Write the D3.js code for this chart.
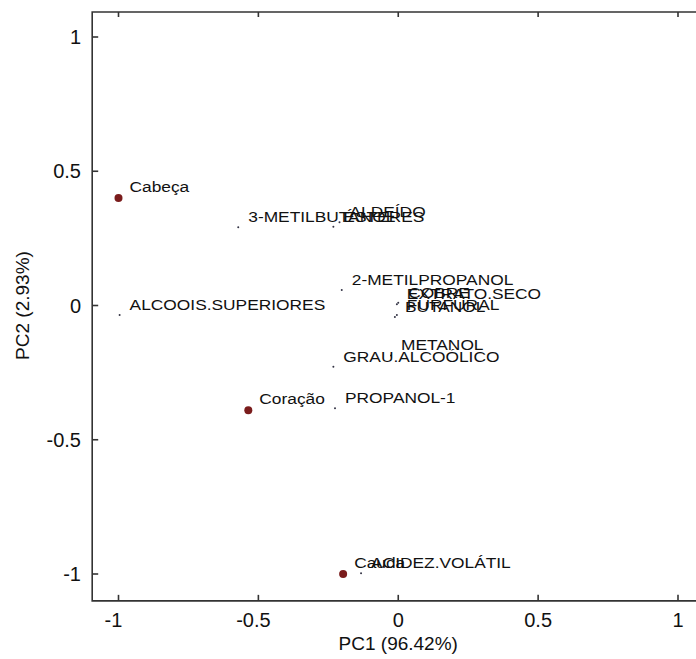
<!DOCTYPE html>
<html>
<head>
<meta charset="utf-8">
<script src="https://cdn.jsdelivr.net/npm/d3@7"></script>
<style>
  body { margin: 0; background: #fff; }
  text { font-family: "Liberation Sans", Arial, sans-serif; fill: #111; }
</style>
</head>
<body>
<div id="chart"></div>
<script>
// samples (scores)
var sampleNames = ["Cabeça", "Coração", "Cauda"];
var sampleX = [-1.0, -0.536, -0.197];
var sampleY = [0.40, -0.39, -1.0];

// variables (loadings)
var varNames = ["ALCOOIS.SUPERIORES", "3-METILBUTANOL", "ÉSTERES", "ALDEÍDO",
                "2-METILPROPANOL", "EXTRATO.SECO", "COBRE", "BUTANOL", "FURFURAL",
                "GRAU.ALCOÓLICO", "METANOL", "PROPANOL-1", "ACIDEZ.VOLÁTIL"];
var varX = [-0.996, -0.572, -0.232, -0.210, -0.202, -0.005, 0.000, -0.012, -0.005,
            -0.232, -0.026, -0.226, -0.133];
var varY = [-0.035, 0.291, 0.293, 0.310, 0.058, 0.005, 0.010, -0.043, -0.035,
            -0.228, -0.186, -0.383, -0.997];

var xTicks = [-1, -0.5, 0, 0.5, 1];
var yTicks = [-1, -0.5, 0, 0.5, 1];
var xTitle = "PC1 (96.42%)";
var yTitle = "PC2 (2.93%)";

var width = 696, height = 659;

var svg = d3.select("#chart").append("svg")
            .attr("width", width)
            .attr("height", height);

//scales from the tick positions in the picture
var x = d3.scaleLinear().domain([-1, 1]).range([118.5, 678]);
var y = d3.scaleLinear().domain([-1, 1]).range([574, 37]);

var boxL = x(-1.094), boxT = y(1.093), boxB = y(-1.1), boxR = x(1.094);
var fmt = d => String(d);

//frame: left, top and bottom lines (right edge falls outside the window)
svg.append("path")
   .attr("d", "M" + boxR + "," + boxT + "H" + boxL + "V" + boxB + "H" + boxR)
   .attr("fill", "none")
   .attr("stroke", "#333")
   .attr("stroke-width", 1.6);

//inward ticks
svg.selectAll(".xtick-b").data(xTicks).enter().append("line")
   .attr("x1", d => x(d)).attr("x2", d => x(d))
   .attr("y1", boxB).attr("y2", boxB - 6)
   .attr("stroke", "#333").attr("stroke-width", 1.6);
svg.selectAll(".xtick-t").data(xTicks).enter().append("line")
   .attr("x1", d => x(d)).attr("x2", d => x(d))
   .attr("y1", boxT).attr("y2", boxT + 5)
   .attr("stroke", "#333").attr("stroke-width", 1.6);
svg.selectAll(".ytick").data(yTicks).enter().append("line")
   .attr("x1", boxL).attr("x2", boxL + 6)
   .attr("y1", d => y(d)).attr("y2", d => y(d))
   .attr("stroke", "#333").attr("stroke-width", 1.6);

//tick labels, minus sign hanging to the left
svg.selectAll(".xlab").data(xTicks).enter().append("text")
   .attr("x", d => x(d) + (d < 0 ? -5 : 0))
   .attr("y", 627)
   .attr("text-anchor", "middle")
   .style("font-size", "20px")
   .text(fmt);
svg.selectAll(".ylab").data(yTicks).enter().append("text")
   .attr("x", 81)
   .attr("y", d => y(d))
   .attr("dy", "0.36em")
   .attr("text-anchor", "end")
   .style("font-size", "20px")
   .text(fmt);

//axis titles
svg.append("text")
   .attr("x", (x(-1) + x(1)) / 2).attr("y", 650)
   .attr("text-anchor", "middle")
   .style("font-size", "19px")
   .text(xTitle);
svg.append("text")
   .attr("transform", "translate(29," + y(0) + ") rotate(-90)")
   .attr("text-anchor", "middle")
   .style("font-size", "19px")
   .text(yTitle);

//variable points and labels
var vars = varNames.map((n, i) => ({name: n, x: varX[i], y: varY[i]}));
svg.selectAll(".vdot").data(vars).enter().append("circle")
   .attr("cx", d => x(d.x)).attr("cy", d => y(d.y))
   .attr("r", 1).attr("fill", "#334");
svg.selectAll(".vlab").data(vars).enter().append("text")
   .attr("transform", d => "translate(" + (x(d.x) + 10) + "," + (y(d.y) - 5) + ") scale(1.12,1)")
   .style("font-size", "15.5px")
   .text(d => d.name);

//sample points and labels
var samples = sampleNames.map((n, i) => ({name: n, x: sampleX[i], y: sampleY[i]}));
svg.selectAll(".sdot").data(samples).enter().append("circle")
   .attr("cx", d => x(d.x)).attr("cy", d => y(d.y))
   .attr("r", 4).attr("fill", "#7a1c1c");
svg.selectAll(".slab").data(samples).enter().append("text")
   .attr("transform", d => "translate(" + (x(d.x) + 11) + "," + (y(d.y) - 6) + ") scale(1.12,1)")
   .style("font-size", "15.5px")
   .text(d => d.name);
</script>
</body>
</html>
